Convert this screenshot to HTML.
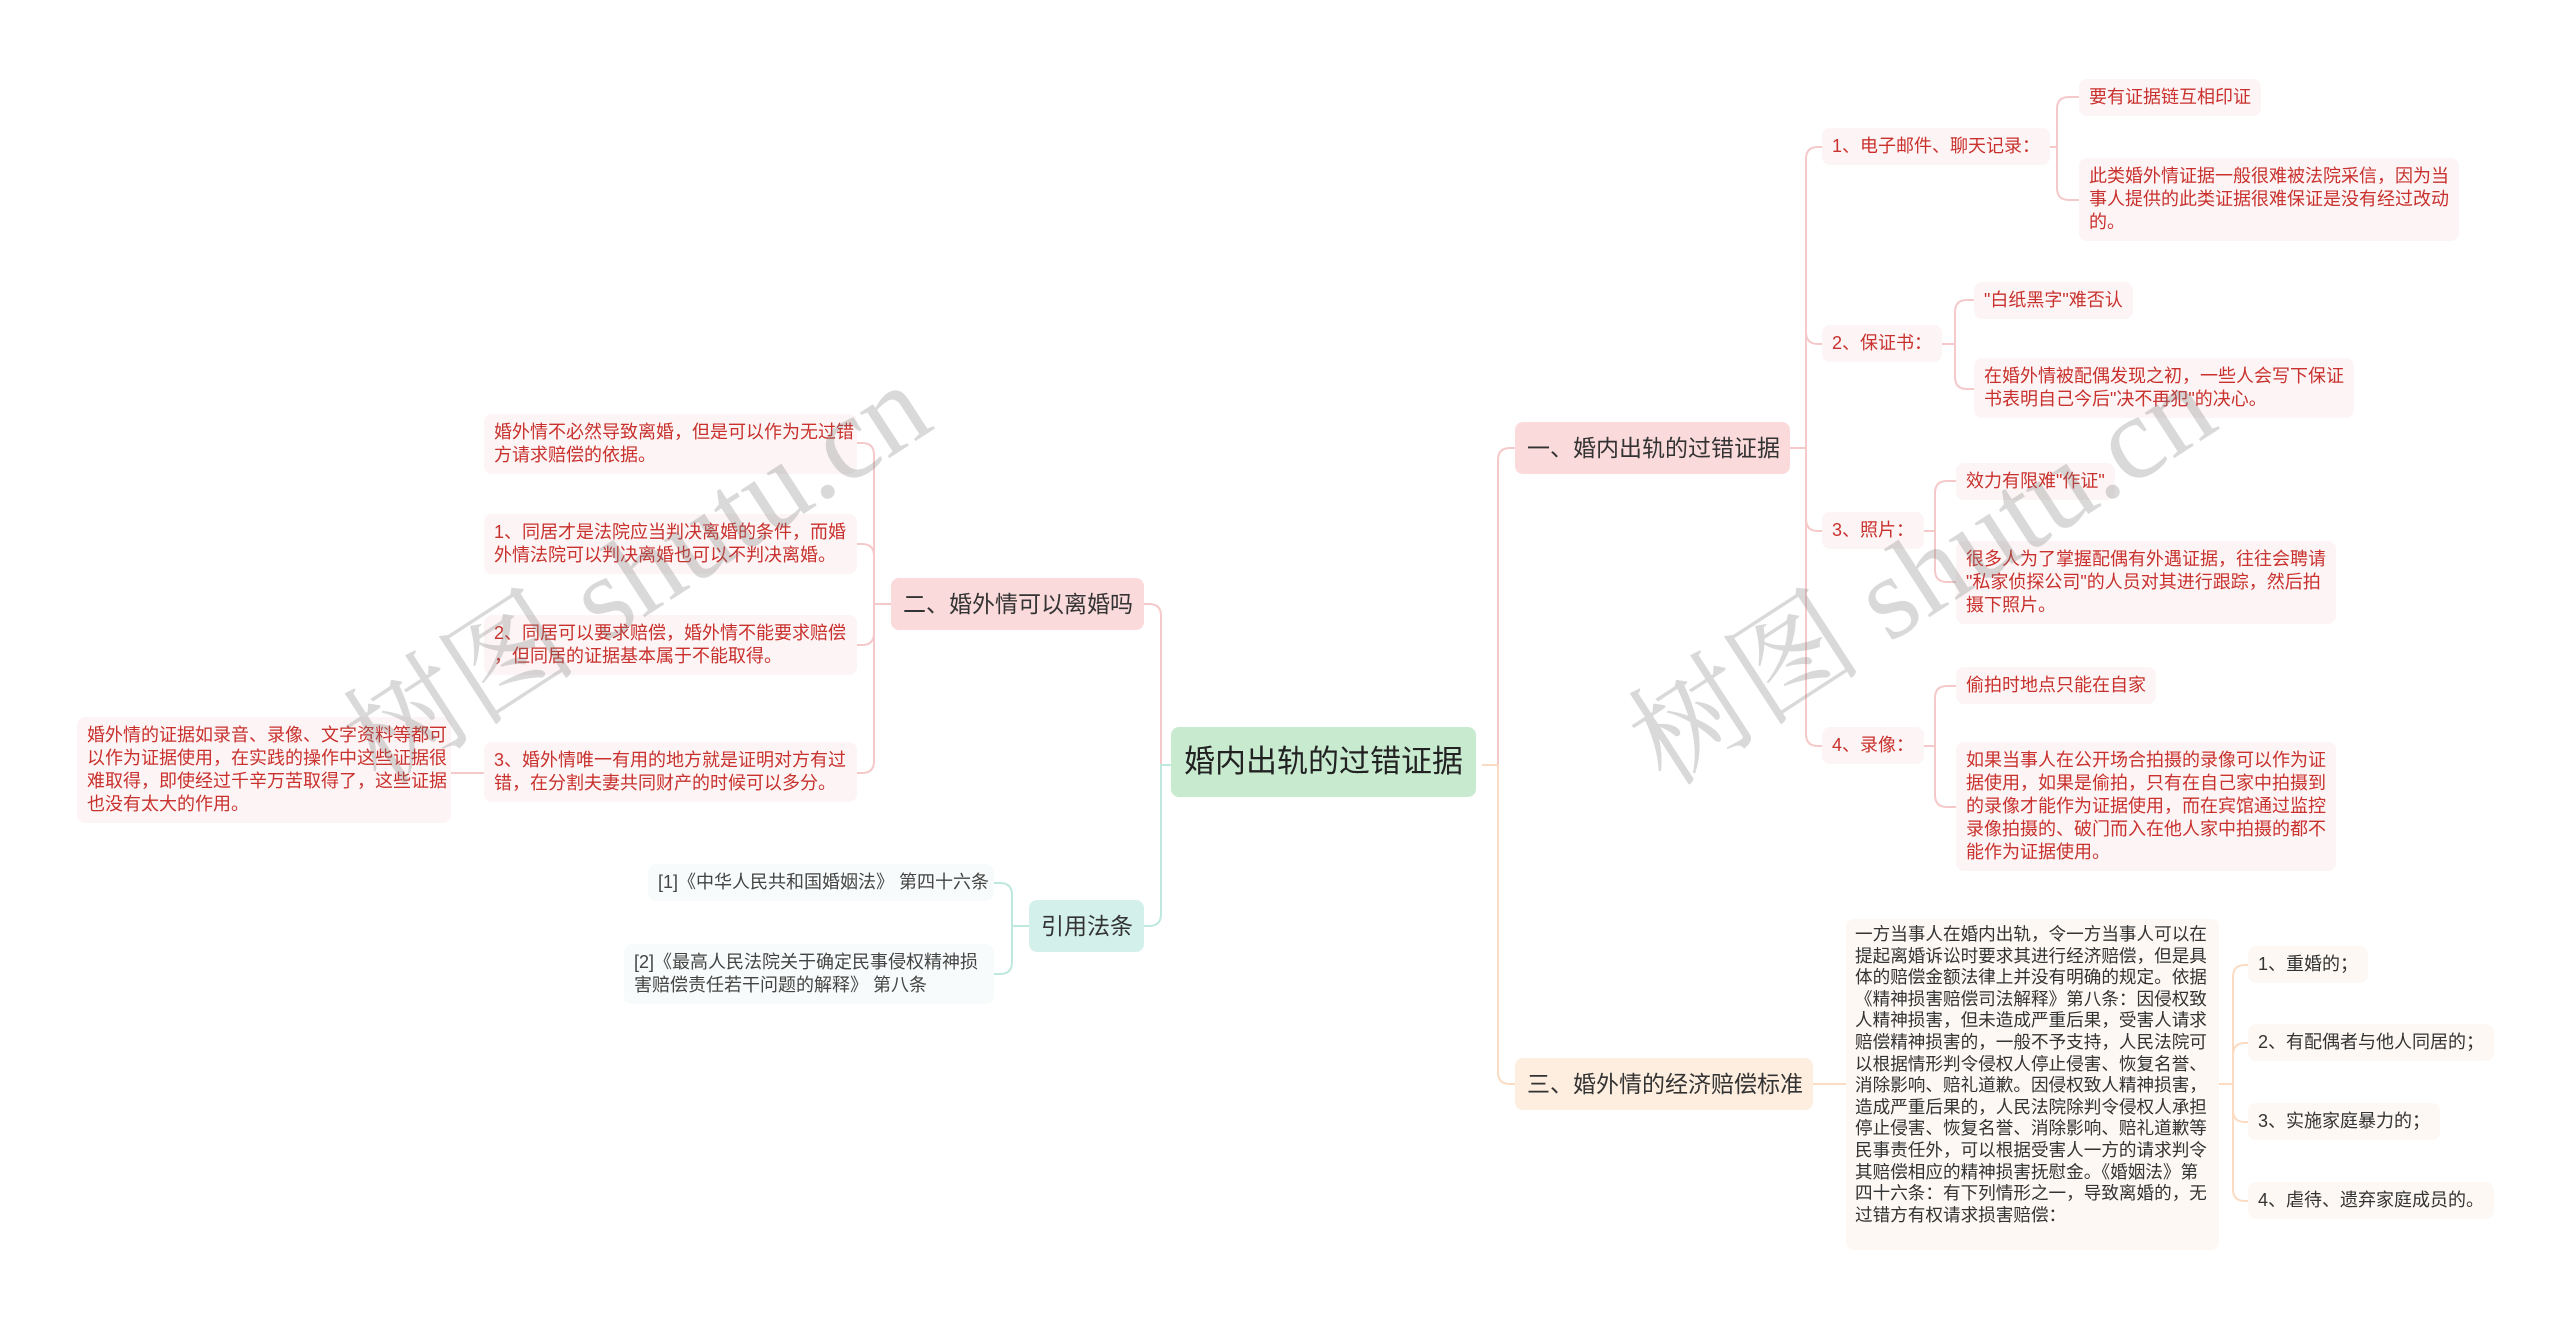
<!DOCTYPE html>
<html><head><meta charset="utf-8"><style>
html,body{margin:0;padding:0;background:#fff;}
body{width:2560px;height:1323px;position:relative;overflow:hidden;font-family:"Liberation Sans","Noto Sans CJK SC",sans-serif;}
.n{position:absolute;box-sizing:border-box;white-space:nowrap;border-radius:8px;}
.lf{background:#fdf5f5;color:#c8312d;font-size:18px;line-height:23px;padding:7px 10px;}
.br{font-size:23px;color:#333;line-height:52px;padding:0 12px;}
.bl{background:#f8fbfb;color:#444;font-size:18px;line-height:23px;padding:7px 10px;}
.wm{position:absolute;font-size:118px;color:rgba(120,120,120,0.28);transform:rotate(-33deg);white-space:nowrap;font-family:"Liberation Serif","Noto Serif CJK SC",serif;}
svg{position:absolute;left:0;top:0;}
</style></head><body>
<svg width="2560" height="1323" fill="none" stroke-width="2">
<g stroke="#f5c9c9">
<path d="M1482 765 H1498 V460 Q1498 448 1510 448 H1515"/>
<path d="M1177 765 H1161 V616 Q1161 604 1149 604 H1144"/>
<path d="M1790 448 H1806 V159 Q1806 147 1818 147 H1822"/>
<path d="M1790 448 H1806 V332 Q1806 344 1818 344 H1822"/>
<path d="M1790 448 H1806 V519 Q1806 531 1818 531 H1822"/>
<path d="M1790 448 H1806 V734 Q1806 746 1818 746 H1822"/>
<path d="M1790 448 H1806 V360 M1806 448 V540"/>
<path d="M2035 147 H2057 V109 Q2057 97 2069 97 H2079"/>
<path d="M2035 147 H2057 V188 Q2057 200 2069 200 H2079"/>
<path d="M1936 344 H1955 V312 Q1955 300 1967 300 H1974"/>
<path d="M1936 344 H1955 V377 Q1955 389 1967 389 H1974"/>
<path d="M1915 531 H1935 V493 Q1935 481 1947 481 H1956"/>
<path d="M1915 531 H1935 V570 Q1935 582 1947 582 H1956"/>
<path d="M1915 746 H1935 V698 Q1935 686 1947 686 H1956"/>
<path d="M1915 746 H1935 V795 Q1935 807 1947 807 H1956"/>
<path d="M891 604 H874 V455 Q874 443 862 443 H857"/>
<path d="M891 604 H874 V556 Q874 544 862 544 H857"/>
<path d="M891 604 H874 V633 Q874 645 862 645 H857"/>
<path d="M891 604 H874 V761 Q874 773 862 773 H857"/>
<path d="M484 773 H451"/>
</g>
<g stroke="#fbdcc3">
<path d="M1482 765 H1498 V1072 Q1498 1084 1510 1084 H1515"/>
<path d="M1813 1084 H1846"/>
<path d="M2219 1084 H2233 V977 Q2233 965 2245 965 H2248"/>
<path d="M2219 1084 H2233 V1055 Q2233 1043 2245 1043 H2248"/>
<path d="M2219 1084 H2233 V1110 Q2233 1122 2245 1122 H2248"/>
<path d="M2219 1084 H2233 V1189 Q2233 1201 2245 1201 H2248"/>
</g>
<g stroke="#bfe8df">
<path d="M1177 765 H1161 V914 Q1161 926 1149 926 H1144"/>
<path d="M1029 926 H1012 V895 Q1012 883 1000 883 H994"/>
<path d="M1029 926 H1012 V962 Q1012 974 1000 974 H994"/>
</g>
</svg>

<div class="n" style="left:1171px;top:727px;width:305px;height:70px;background:#c8ebd0;color:#222;font-size:31px;line-height:70px;text-align:center;">婚内出轨的过错证据</div>

<div class="n br" style="left:1515px;top:422px;width:275px;background:#fadadb;">一、婚内出轨的过错证据</div>
<div class="n br" style="left:1515px;top:1058px;width:298px;background:#fdeedf;">三、婚外情的经济赔偿标准</div>
<div class="n br" style="left:891px;top:578px;width:253px;background:#fadadb;">二、婚外情可以离婚吗</div>
<div class="n br" style="left:1029px;top:900px;width:115px;background:#d3f1ea;">引用法条</div>

<div class="n lf" style="left:1822px;top:128px;">1、电子邮件、聊天记录：</div>
<div class="n lf" style="left:2079px;top:79px;">要有证据链互相印证</div>
<div class="n lf" style="left:2079px;top:158px;">此类婚外情证据一般很难被法院采信，因为当<br>事人提供的此类证据很难保证是没有经过改动<br>的。</div>
<div class="n lf" style="left:1822px;top:325px;">2、保证书：</div>
<div class="n lf" style="left:1974px;top:282px;">"白纸黑字"难否认</div>
<div class="n lf" style="left:1974px;top:358px;">在婚外情被配偶发现之初，一些人会写下保证<br>书表明自己今后"决不再犯"的决心。</div>
<div class="n lf" style="left:1822px;top:512px;">3、照片：</div>
<div class="n lf" style="left:1956px;top:463px;">效力有限难"作证"</div>
<div class="n lf" style="left:1956px;top:541px;">很多人为了掌握配偶有外遇证据，往往会聘请<br>"私家侦探公司"的人员对其进行跟踪，然后拍<br>摄下照片。</div>
<div class="n lf" style="left:1822px;top:727px;">4、录像：</div>
<div class="n lf" style="left:1956px;top:667px;">偷拍时地点只能在自家</div>
<div class="n lf" style="left:1956px;top:742px;">如果当事人在公开场合拍摄的录像可以作为证<br>据使用，如果是偷拍，只有在自己家中拍摄到<br>的录像才能作为证据使用，而在宾馆通过监控<br>录像拍摄的、破门而入在他人家中拍摄的都不<br>能作为证据使用。</div>

<div class="n" style="left:1846px;top:919px;width:373px;height:331px;background:#fdf8f4;color:#333;font-size:17.6px;line-height:21.6px;padding:5px 9px;">一方当事人在婚内出轨，令一方当事人可以在<br>提起离婚诉讼时要求其进行经济赔偿，但是具<br>体的赔偿金额法律上并没有明确的规定。依据<br>《精神损害赔偿司法解释》第八条：因侵权致<br>人精神损害，但未造成严重后果，受害人请求<br>赔偿精神损害的，一般不予支持，人民法院可<br>以根据情形判令侵权人停止侵害、恢复名誉、<br>消除影响、赔礼道歉。因侵权致人精神损害，<br>造成严重后果的，人民法院除判令侵权人承担<br>停止侵害、恢复名誉、消除影响、赔礼道歉等<br>民事责任外，可以根据受害人一方的请求判令<br>其赔偿相应的精神损害抚慰金。《婚姻法》第<br>四十六条：有下列情形之一，导致离婚的，无<br>过错方有权请求损害赔偿：</div>
<div class="n bl" style="left:2248px;top:946px;background:#fdf8f4;color:#333;">1、重婚的；</div>
<div class="n bl" style="left:2248px;top:1024px;background:#fdf8f4;color:#333;">2、有配偶者与他人同居的；</div>
<div class="n bl" style="left:2248px;top:1103px;background:#fdf8f4;color:#333;">3、实施家庭暴力的；</div>
<div class="n bl" style="left:2248px;top:1182px;background:#fdf8f4;color:#333;">4、虐待、遗弃家庭成员的。</div>

<div class="n lf" style="left:484px;top:414px;width:373px;">婚外情不必然导致离婚，但是可以作为无过错<br>方请求赔偿的依据。</div>
<div class="n lf" style="left:484px;top:514px;width:373px;">1、同居才是法院应当判决离婚的条件，而婚<br>外情法院可以判决离婚也可以不判决离婚。</div>
<div class="n lf" style="left:484px;top:615px;width:373px;">2、同居可以要求赔偿，婚外情不能要求赔偿<br>，但同居的证据基本属于不能取得。</div>
<div class="n lf" style="left:484px;top:742px;width:373px;">3、婚外情唯一有用的地方就是证明对方有过<br>错，在分割夫妻共同财产的时候可以多分。</div>
<div class="n lf" style="left:77px;top:717px;width:374px;">婚外情的证据如录音、录像、文字资料等都可<br>以作为证据使用，在实践的操作中这些证据很<br>难取得，即使经过千辛万苦取得了，这些证据<br>也没有太大的作用。</div>

<div class="n bl" style="left:648px;top:864px;width:346px;text-align:right;">[1]《中华人民共和国婚姻法》 第四十六条</div>
<div class="n bl" style="left:624px;top:944px;width:370px;">[2]《最高人民法院关于确定民事侵权精神损<br>害赔偿责任若干问题的解释》 第八条</div>

<div class="wm" style="left:300px;top:480px;">树图 shutu.cn</div>
<div class="wm" style="left:1585px;top:480px;">树图 shutu.cn</div>
</body></html>
